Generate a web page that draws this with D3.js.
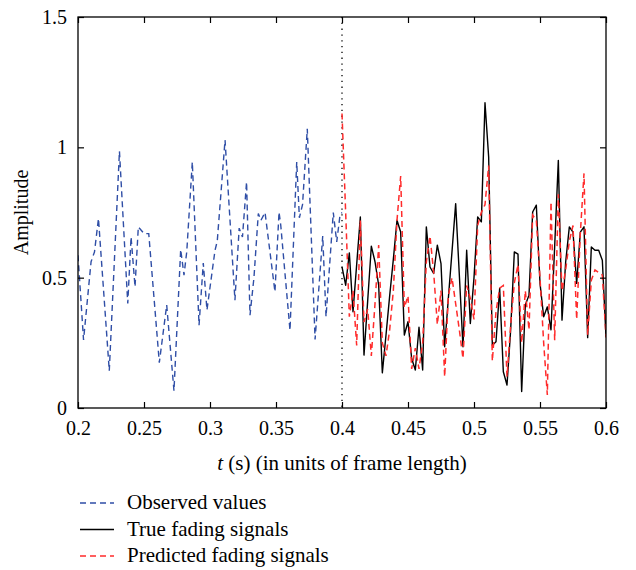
<!DOCTYPE html>
<html>
<head>
<meta charset="UTF-8">
<title>Fading prediction</title>
<style>
  body { margin: 0; background: #fff; }
  text { font-family: "Liberation Serif", "Times New Roman", serif; fill: #000; }
</style>
</head>
<body>
<div id="chart"></div>
<script src="https://d3js.org/d3.v7.min.js"></script>
<script>
var obsT = [0.2, 0.2042, 0.2099, 0.2125, 0.2155, 0.2237, 0.2314, 0.2377, 0.2402, 0.2432,
  0.2457, 0.25, 0.2536, 0.2616, 0.2672, 0.2727, 0.2778, 0.2803, 0.2824, 0.2866,
  0.2917, 0.2949, 0.2977, 0.3038, 0.3055, 0.3114, 0.3189, 0.3221, 0.3246, 0.3277,
  0.3303, 0.3333, 0.3366, 0.3386, 0.3417, 0.3492, 0.3523, 0.3536, 0.3606, 0.3657,
  0.3677, 0.3701, 0.3737, 0.3796, 0.3854, 0.3879, 0.3934, 0.396, 0.3985, 0.4];
var obsV = [0.586, 0.261, 0.561, 0.599, 0.727, 0.143, 0.985, 0.401, 0.656, 0.465,
  0.695, 0.669, 0.669, 0.174, 0.395, 0.066, 0.608, 0.51, 0.6, 0.944,
  0.318, 0.556, 0.376, 0.605, 0.64, 1.028, 0.414, 0.69, 0.656, 0.867,
  0.356, 0.5, 0.746, 0.72, 0.75, 0.446, 0.752, 0.701, 0.298, 0.944,
  0.73, 0.78, 1.071, 0.263, 0.66, 0.35, 0.75, 0.637, 0.74, 0.75];

// true and predicted fading, 73 samples from 0.4 to 0.6
var trueV = [0.541, 0.471, 0.595, 0.369, 0.55, 0.733, 0.203, 0.41, 0.621, 0.561,
  0.471, 0.135, 0.28, 0.43, 0.57, 0.72, 0.675, 0.28, 0.331, 0.19,
  0.146, 0.31, 0.146, 0.695, 0.541, 0.516, 0.625, 0.554, 0.235, 0.42,
  0.6, 0.784, 0.51, 0.235, 0.605, 0.324, 0.5, 0.733, 0.714, 1.171,
  0.963, 0.241, 0.254, 0.459, 0.139, 0.088, 0.3, 0.599, 0.59, 0.063,
  0.395, 0.433, 0.752, 0.778, 0.478, 0.35, 0.388, 0.3, 0.62, 0.95,
  0.337, 0.56, 0.695, 0.675, 0.478, 0.675, 0.695, 0.27, 0.618, 0.605,
  0.605, 0.567, 0.273];
var predV = [1.13, 0.75, 0.35, 0.45, 0.24, 0.72, 0.33, 0.38, 0.2, 0.4,
  0.625, 0.25, 0.2, 0.3, 0.45, 0.72, 0.89, 0.385, 0.43, 0.15,
  0.23, 0.15, 0.25, 0.56, 0.66, 0.52, 0.32, 0.45, 0.12, 0.43,
  0.5, 0.4, 0.3, 0.19, 0.47, 0.42, 0.34, 0.7, 0.75, 0.78,
  0.93, 0.18, 0.37, 0.46, 0.47, 0.12, 0.32, 0.48, 0.55, 0.25,
  0.45, 0.3, 0.74, 0.72, 0.5, 0.25, 0.05, 0.79, 0.26, 0.82,
  0.45, 0.53, 0.64, 0.7, 0.34, 0.67, 0.9, 0.28, 0.49, 0.53,
  0.52, 0.51, 0.27];
var futureStart = 0.4, futureStep = 0.2 / 72;

var xTicks = [0.2, 0.25, 0.3, 0.35, 0.4, 0.45, 0.5, 0.55, 0.6];
var yTicks = [0, 0.5, 1, 1.5];
var legendNames = ["Observed values", "True fading signals", "Predicted fading signals"];

var width = 636, height = 570;
var plot = { left: 78, right: 606, top: 17, bottom: 408 };
var blue = "#2f4ea6", red = "#ff2b2b";

var svg = d3.select("#chart").append("svg")
  .attr("width", width).attr("height", height);

var x = d3.scaleLinear().domain([0.2, 0.6]).range([plot.left, plot.right]);
var y = d3.scaleLinear().domain([0, 1.5]).range([plot.bottom, plot.top]);

svg.append("clipPath").attr("id", "clip")
  .append("rect")
  .attr("x", plot.left).attr("y", plot.top)
  .attr("width", plot.right - plot.left).attr("height", plot.bottom - plot.top);

// dotted separator at t = 0.4
svg.append("line")
  .attr("x1", x(0.4)).attr("x2", x(0.4))
  .attr("y1", y(1.5)).attr("y2", y(0))
  .attr("stroke", "#000").attr("stroke-width", 1.3)
  .attr("stroke-dasharray", "1.3,4.5");

var line = d3.line().x(function(d) { return x(d[0]); }).y(function(d) { return y(d[1]); });

var obs = obsT.map(function(t, i) { return [t, obsV[i]]; });
var tru = trueV.map(function(v, i) { return [futureStart + i * futureStep, v]; });
var pred = predV.map(function(v, i) { return [futureStart + i * futureStep, v]; });

var g = svg.append("g").attr("clip-path", "url(#clip)");
g.append("path").datum(obs).attr("d", line)
  .attr("fill", "none").attr("stroke", blue).attr("stroke-width", 1.4)
  .attr("stroke-dasharray", "6,4");
g.append("path").datum(tru).attr("d", line)
  .attr("fill", "none").attr("stroke", "#000").attr("stroke-width", 1.4)
  .attr("stroke-linejoin", "round");
g.append("path").datum(pred).attr("d", line)
  .attr("fill", "none").attr("stroke", red).attr("stroke-width", 1.5)
  .attr("stroke-dasharray", "6,4");

// axes (ticks point inward on all four sides)
function fmt(d) { return String(d); }
var ax = svg.append("g").attr("transform", "translate(0," + plot.bottom + ")")
  .call(d3.axisBottom(x).tickValues(xTicks).tickFormat(fmt).tickSizeInner(-6).tickSizeOuter(0).tickPadding(13));
var ay = svg.append("g").attr("transform", "translate(" + plot.left + ",0)")
  .call(d3.axisLeft(y).tickValues(yTicks).tickFormat(fmt).tickSizeInner(-6).tickSizeOuter(0).tickPadding(11));
var axt = svg.append("g").attr("transform", "translate(0," + plot.top + ")")
  .call(d3.axisTop(x).tickValues(xTicks).tickFormat("").tickSizeInner(-6).tickSizeOuter(0));
var ayr = svg.append("g").attr("transform", "translate(" + plot.right + ",0)")
  .call(d3.axisRight(y).tickValues(yTicks).tickFormat("").tickSizeInner(-6).tickSizeOuter(0));

[ax, ay, axt, ayr].forEach(function(a) {
  a.select(".domain").remove();
  a.selectAll("line").attr("stroke", "#000").attr("stroke-width", 1.2);
  a.selectAll("text").style("font-family", "'Liberation Serif', 'Times New Roman', serif")
    .style("font-size", "20px").attr("fill", "#000");
});

svg.append("rect")
  .attr("x", plot.left).attr("y", plot.top)
  .attr("width", plot.right - plot.left).attr("height", plot.bottom - plot.top)
  .attr("fill", "none").attr("stroke", "#000").attr("stroke-width", 1.3);

// axis titles
var xt = svg.append("text")
  .attr("x", (plot.left + plot.right) / 2).attr("y", 470)
  .attr("text-anchor", "middle").style("font-size", "21px");
xt.append("tspan").style("font-style", "italic").text("t");
xt.append("tspan").text(" (s) (in units of frame length)");

svg.append("text")
  .attr("transform", "translate(28," + ((plot.top + plot.bottom) / 2) + ") rotate(-90)")
  .attr("text-anchor", "middle").style("font-size", "20px")
  .text("Amplitude");

// legend
var legendStyles = [
  { color: blue, dash: "6,4" },
  { color: "#000", dash: null },
  { color: red, dash: "6,4" }
];
var legend = svg.selectAll(".legend")
  .data(legendNames)
  .enter().append("g")
  .attr("class", "legend")
  .attr("transform", function(d, i) { return "translate(80," + (503 + i * 26.5) + ")"; });
legend.append("line")
  .attr("x1", 0).attr("x2", 34).attr("y1", 0).attr("y2", 0)
  .attr("stroke", function(d, i) { return legendStyles[i].color; })
  .attr("stroke-width", 1.4)
  .attr("stroke-dasharray", function(d, i) { return legendStyles[i].dash; });
legend.append("text")
  .attr("x", 47).attr("y", 6)
  .style("font-size", "21px")
  .text(function(d) { return d; });
</script>
</body>
</html>
